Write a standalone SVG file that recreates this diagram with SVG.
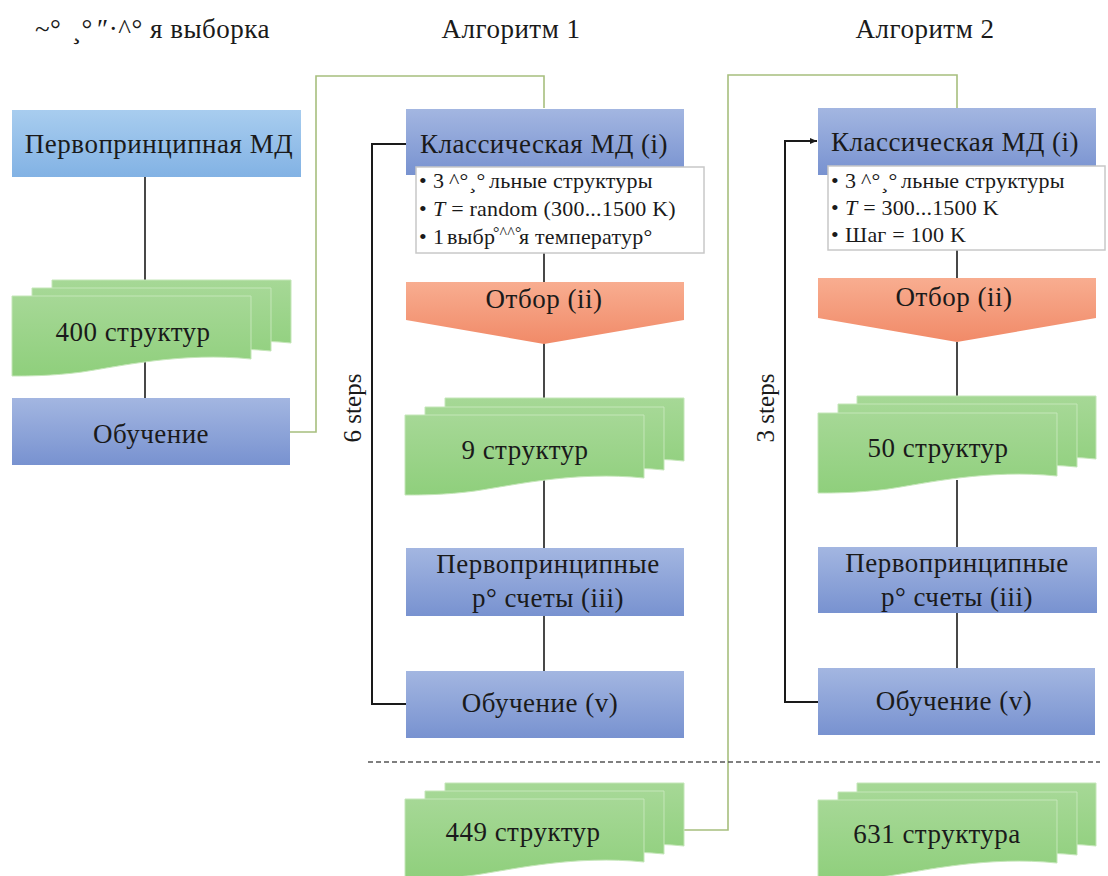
<svg xmlns="http://www.w3.org/2000/svg" width="1108" height="876" viewBox="0 0 1108 876">
<defs>
<linearGradient id="gBlue" x1="0" y1="0" x2="0" y2="1"><stop offset="0" stop-color="#a3b6e1"/><stop offset="1" stop-color="#7892d0"/></linearGradient>
<linearGradient id="gLight" x1="0" y1="0" x2="0" y2="1"><stop offset="0" stop-color="#a8cdef"/><stop offset="1" stop-color="#82b2e4"/></linearGradient>
<linearGradient id="gGreen" x1="0" y1="0" x2="0" y2="1"><stop offset="0" stop-color="#a6d896"/><stop offset="1" stop-color="#8fcf7c"/></linearGradient>
<linearGradient id="gSalmon" x1="0" y1="0" x2="0" y2="1"><stop offset="0" stop-color="#f8ad90"/><stop offset="1" stop-color="#f18a68"/></linearGradient>
<marker id="arr" markerWidth="8" markerHeight="8" refX="7" refY="4" orient="auto" markerUnits="userSpaceOnUse"><path d="M0,1 L7,4 L0,7 Z" fill="#1a1a1a"/></marker>
<path id="doc" d="M0,0 H239 V63 C170,56 110,70 70,76 C40,80 15,80 0,80 Z"/>
</defs>
<style>
text{font-family:"Liberation Serif","Times New Roman",serif;fill:#1a1a1a}
.t24{font-size:27px;letter-spacing:0.5px}
.t20{font-size:22px;letter-spacing:0.2px}
.sm{font-size:16px}
.st{font-size:25px}
.c{text-anchor:middle}
.blue{fill:url(#gBlue)}
.light{fill:url(#gLight)}
.salmon{fill:url(#gSalmon)}
.doc{fill:url(#gGreen);stroke:#c4e6b8;stroke-width:1}
.bul{fill:#ffffff;stroke:#c8c8c8;stroke-width:1.5}
.ln{fill:none;stroke:#1a1a1a;stroke-width:1.6}
.loop{fill:none;stroke:#1a1a1a;stroke-width:2}
.gl{fill:none;stroke:#a7bf7e;stroke-width:1.6}
.dash{fill:none;stroke:#555555;stroke-width:1.3;stroke-dasharray:5 3}
</style>
<rect width="1108" height="876" fill="#ffffff"/>

<g id="headers">
<text class="t24" y="38"><tspan x="35">~°</tspan><tspan x="72">¸°</tspan><tspan x="97">″·^°</tspan><tspan x="150">я выборка</tspan></text>
<text class="t24 c" x="511" y="38">Алгоритм 1</text>
<text class="t24 c" x="925" y="38">Алгоритм 2</text>
</g>

<g id="connectors">
<path class="ln" d="M145,177 V290"/>
<path class="ln" d="M145,360 V398"/>
<path class="gl" d="M290,432 H316 V76 H544 V108"/>
<path class="gl" d="M683,830 H728 V75 H957 V108"/>
<path class="ln" d="M544,253 V282"/>
<path class="ln" d="M544,343 V420"/>
<path class="ln" d="M544,480 V548"/>
<path class="ln" d="M544,616 V671"/>
<path class="loop" d="M406,704 H372 V144 H406"/>
<path class="ln" d="M957,250 V278"/>
<path class="ln" d="M957,342 V420"/>
<path class="ln" d="M957,480 V547"/>
<path class="ln" d="M957,613 V668"/>
<path class="loop" d="M818,702 H785 V141 H817" marker-end="url(#arr)"/>
<path class="dash" d="M368,762 H1100"/>
</g>

<g id="steps">
<text class="st c" transform="translate(361,408) rotate(-90)">6 steps</text>
<text class="st c" transform="translate(774,408) rotate(-90)">3 steps</text>
</g>

<g id="first-md">
<rect class="light" x="12" y="110" width="289" height="67"/>
<text class="t24 c" x="159" y="153">Первопринципная МД</text>
</g>

<g id="docs400">
<use href="#doc" class="doc" x="52" y="280"/>
<use href="#doc" class="doc" x="32" y="288"/>
<use href="#doc" class="doc" x="12" y="296"/>
<text class="t24 c" x="133" y="341">400 структур</text>
</g>

<g id="train0">
<rect class="blue" x="12" y="398" width="278" height="67"/>
<text class="t24 c" x="151" y="443">Обучение</text>
</g>

<g id="a1-md">
<rect class="blue" x="406" y="109" width="278" height="66"/>
<text class="t24 c" x="544" y="153">Классическая МД (i)</text>
</g>
<g id="a1-bullets">
<rect class="bul" x="416" y="167" width="288" height="86"/>
<text class="t20" y="188"><tspan x="419">•</tspan><tspan x="433">3</tspan><tspan x="449">^°</tspan><tspan x="469">¸°</tspan><tspan x="489">льные структуры</tspan></text>
<text class="t20" y="216"><tspan x="419">•</tspan><tspan x="433" font-style="italic">T</tspan><tspan> = random (300...1500 K)</tspan></text>
<text class="t20" y="244"><tspan x="419">•</tspan><tspan x="433">1</tspan><tspan x="447">выбр</tspan><tspan class="sm" x="493" y="238">°^^°</tspan><tspan x="519" y="244">я температур°</tspan></text>
</g>
<g id="a1-select">
<path class="salmon" d="M406,282 H684 V320 L544,344 L406,320 Z"/>
<text class="t24 c" x="544" y="308">Отбор (ii)</text>
</g>
<g id="a1-docs">
<use href="#doc" class="doc" x="445" y="398"/>
<use href="#doc" class="doc" x="425" y="407"/>
<use href="#doc" class="doc" x="405" y="415"/>
<text class="t24 c" x="525" y="459">9 структур</text>
</g>
<g id="a1-dft">
<rect class="blue" x="406" y="548" width="278" height="68"/>
<text class="t24 c" x="548" y="573">Первопринципные</text>
<text class="t24 c" x="548" y="607">р° счеты (iii)</text>
</g>
<g id="a1-train">
<rect class="blue" x="406" y="671" width="278" height="67"/>
<text class="t24 c" x="540" y="712">Обучение (v)</text>
</g>
<g id="a1-result">
<use href="#doc" class="doc" x="445" y="783"/>
<use href="#doc" class="doc" x="425" y="791"/>
<use href="#doc" class="doc" x="405" y="799"/>
<text class="t24 c" x="523" y="841">449 структур</text>
</g>

<g id="a2-md">
<rect class="blue" x="818" y="108" width="278" height="67"/>
<text class="t24 c" x="955" y="151">Классическая МД (i)</text>
</g>
<g id="a2-bullets">
<rect class="bul" x="828" y="166" width="277" height="84"/>
<text class="t20" y="188"><tspan x="831">•</tspan><tspan x="845">3</tspan><tspan x="861">^°</tspan><tspan x="881">¸°</tspan><tspan x="901">льные структуры</tspan></text>
<text class="t20" y="215"><tspan x="831">•</tspan><tspan x="845" font-style="italic">T</tspan><tspan> = 300...1500 K</tspan></text>
<text class="t20" y="242"><tspan x="831">•</tspan><tspan x="845">Шаг = 100 K</tspan></text>
</g>
<g id="a2-select">
<path class="salmon" d="M818,278 H1096 V318 L957,342 L818,318 Z"/>
<text class="t24 c" x="954" y="306">Отбор (ii)</text>
</g>
<g id="a2-docs">
<use href="#doc" class="doc" x="857" y="396"/>
<use href="#doc" class="doc" x="838" y="404"/>
<use href="#doc" class="doc" x="818" y="413"/>
<text class="t24 c" x="938" y="457">50 структур</text>
</g>
<g id="a2-dft">
<rect class="blue" x="818" y="547" width="279" height="66"/>
<text class="t24 c" x="957" y="572">Первопринципные</text>
<text class="t24 c" x="957" y="606">р° счеты (iii)</text>
</g>
<g id="a2-train">
<rect class="blue" x="818" y="668" width="277" height="67"/>
<text class="t24 c" x="954" y="710">Обучение (v)</text>
</g>
<g id="a2-result">
<use href="#doc" class="doc" x="857" y="783"/>
<use href="#doc" class="doc" x="838" y="792"/>
<use href="#doc" class="doc" x="818" y="800"/>
<text class="t24 c" x="937" y="843">631 структура</text>
</g>
</svg>
